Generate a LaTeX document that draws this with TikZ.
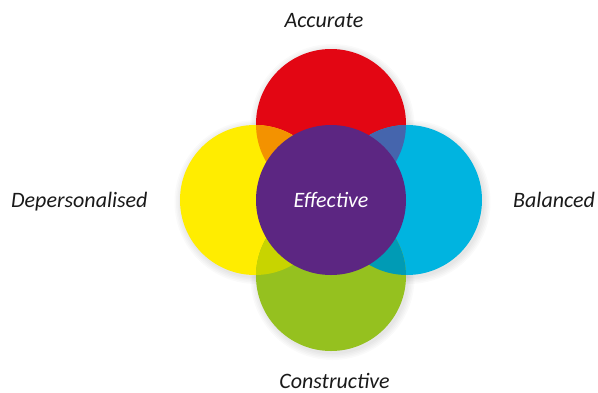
\documentclass[tikz,border=0pt]{standalone}
\usepackage{fontspec}
\setmainfont{Carlito}
\definecolor{cred}{HTML}{E30613}
\definecolor{cyellow}{HTML}{FFED00}
\definecolor{ccyan}{HTML}{00B4E0}
\definecolor{cgreen}{HTML}{95C11F}
\definecolor{cpurple}{HTML}{5C2682}
\definecolor{corange}{HTML}{F39200}
\definecolor{cblue}{HTML}{4565AD}
\definecolor{clime}{HTML}{C8D400}
\definecolor{cteal}{HTML}{009BB5}
\definecolor{ctext}{HTML}{1A1A1A}
\begin{document}
\begin{tikzpicture}[x=1pt,y=-1pt,
  lbl/.style={font=\itshape\fontsize{22}{26}\selectfont, text=ctext, inner sep=0pt},
  disc/.style={circle, minimum size=150pt, inner sep=0pt, draw=none}]
\useasboundingbox (0,0) rectangle (598,392);
\fill[white] (0,0) rectangle (598,392);
% soft shadows
\foreach \cx/\cy in {331/124,255/200,407/200,331/276}{
  \foreach \r in {76,77.5,79,80.5,82}{
    \fill[black, opacity=0.018] (\cx+1.5,\cy+2) circle (\r);
  }
}
% outer discs
\node[disc, fill=cred] (acc) at (331,124) {};
\node[disc, fill=cyellow] (dep) at (255,200) {};
\node[disc, fill=ccyan] (bal) at (407,200) {};
\node[disc, fill=cgreen] (con) at (331,276) {};
% overlaps
\begin{scope}
  \clip (331,124) circle (75);
  \fill[corange] (255,200) circle (75);
  \fill[cblue] (407,200) circle (75);
\end{scope}
\begin{scope}
  \clip (331,276) circle (75);
  \fill[clime] (255,200) circle (75);
  \fill[cteal] (407,200) circle (75);
\end{scope}
% centre
\node[disc, fill=cpurple] (eff) at (331,200) {};
\node[lbl, text=white, anchor=base] (efft) at (331,207) {Effective};
% labels
\node[lbl, anchor=base] (acct) at (324,27) {Accurate};
\node[lbl, anchor=base west] (dept) at (11,207) {Depersonalised};
\node[lbl, anchor=base west] (balt) at (513,207) {Balanced};
\node[lbl, anchor=base] (cont) at (334.5,388) {Constructive};
\end{tikzpicture}
\end{document}
